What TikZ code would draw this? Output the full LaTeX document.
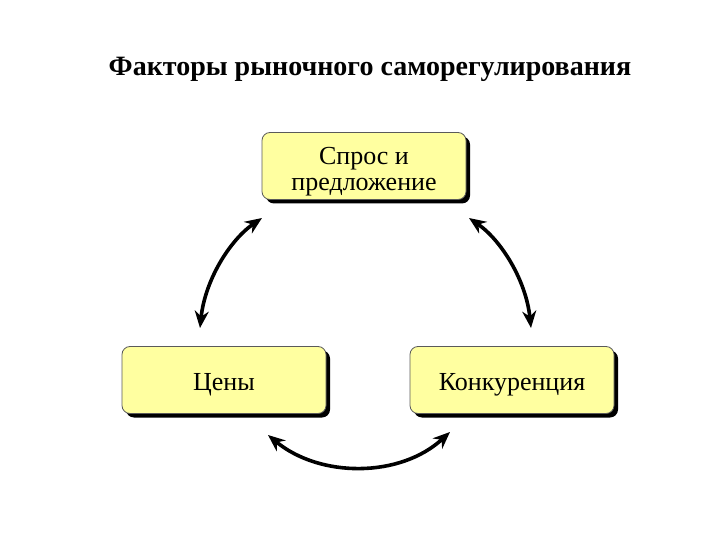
\documentclass[tikz,border=0pt]{standalone}
\usepackage{fontspec}
\setmainfont{Liberation Serif}
\usetikzlibrary{arrows.meta,shadows}
\definecolor{boxfill}{RGB}{255,255,160}
\definecolor{boxline}{RGB}{90,90,90}
\begin{document}
\begin{tikzpicture}[x=1pt,y=-1pt,
  factor/.style={draw=boxline,line width=0.8pt,fill=boxfill,rounded corners=8pt,
    minimum width=204pt,minimum height=67pt,align=center,inner sep=2pt,
    font=\fontsize{26}{26.5}\selectfont,text height=26pt,text depth=6pt,
    drop shadow={shadow xshift=4pt,shadow yshift=-4pt,fill=black,opacity=1}},
  link/.style={line width=3.6pt,{Stealth[length=17pt,width=14pt]}-{Stealth[length=17pt,width=14pt]}}]
\useasboundingbox (0,0) rectangle (720,540);
\node[font=\fontsize{28}{32}\selectfont\bfseries] (title) at (370,69) {Факторы рыночного саморегулирования};
\node[factor,text height=56pt] (demand) at (364,166) {Спрос и\\предложение};
\node[factor] (prices) at (224,380) {Цены};
\node[factor] (comp) at (512,380) {Конкуренция};
\coordinate (l1) at (262,218);
\coordinate (l2) at (200,328);
\coordinate (r1) at (469,218);
\coordinate (r2) at (531,328);
\coordinate (b1) at (268,435);
\coordinate (b2) at (450,432);
\draw[link] (l1) .. controls (230,240) and (205,280) .. (l2);
\draw[link] (r1) .. controls (501,240) and (526,280) .. (r2);
\draw[link] (b1) .. controls (320,478) and (400,478) .. (b2);
\end{tikzpicture}
\end{document}
